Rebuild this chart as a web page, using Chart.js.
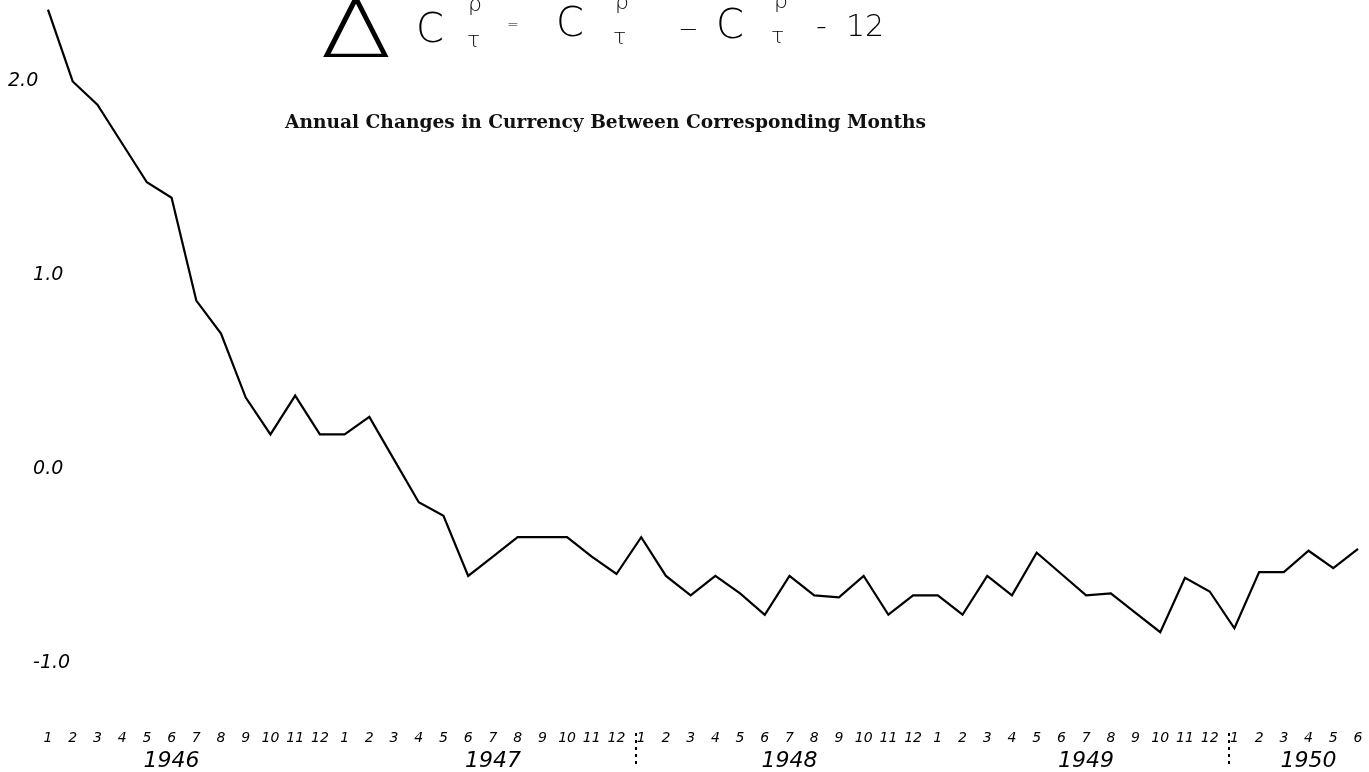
<!DOCTYPE html>
<html>
<head>
<meta charset="utf-8">
<title>Annual Changes in Currency Between Corresponding Months</title>
<script src="https://cdn.jsdelivr.net/npm/chart.js@4.4.1/dist/chart.umd.min.js"></script>
<style>
  html, body { margin: 0; padding: 0; background: #fff; overflow: hidden; }
  #wrap  { position: relative; width: 1369px; height: 772px; }
  #chart { position: absolute; left: 0; top: 0; }
  .hand  { position: absolute; line-height: 1; font-family: 'DejaVu Sans', sans-serif; font-weight: 200; color: #000; white-space: nowrap; }
  #delta { transform: scaleX(1.35); transform-origin: left top; }
  #title { position: absolute; left: 285px; top: 113px; font: bold 18.6px 'DejaVu Serif', serif; line-height: 1; white-space: nowrap; color: #111; }
</style>
</head>
<body>
<div id="wrap">
  <canvas id="chart" width="1369" height="772"></canvas>
  <div id="title">Annual Changes in Currency Between Corresponding Months</div>

  <!-- handwritten formula: ΔC(ρ,τ) = C(ρ,τ) − C(ρ,τ−12) -->
  <span class="hand" id="delta" style="left:320px;top:-9px;font-size:78px">Δ</span>
  <span class="hand" style="left:416px;top:8px;font-size:40px">C</span>
  <span class="hand" style="left:468px;top:-7px;font-size:22px">ρ</span>
  <span class="hand" style="left:467px;top:29px;font-size:22px">τ</span>
  <span class="hand" style="left:507px;top:17px;font-size:14px">=</span>
  <span class="hand" style="left:556px;top:2px;font-size:40px">C</span>
  <span class="hand" style="left:615px;top:-9px;font-size:22px">ρ</span>
  <span class="hand" style="left:613px;top:26px;font-size:22px">τ</span>
  <span class="hand" style="left:678px;top:17px;font-size:24px">−</span>
  <span class="hand" style="left:716px;top:4px;font-size:40px">C</span>
  <span class="hand" style="left:774px;top:-10px;font-size:22px">ρ</span>
  <span class="hand" style="left:771px;top:25px;font-size:22px">τ</span>
  <span class="hand" style="left:816px;top:11px;font-size:30px">-&nbsp;&nbsp;12</span>
</div>

<script>
// ── Data ────────────────────────────────────────────────────────────────────
const monthTicks = [
  '1', '2', '3', '4', '5', '6', '7', '8', '9', '10', '11', '12',   // 1946
  '1', '2', '3', '4', '5', '6', '7', '8', '9', '10', '11', '12',   // 1947
  '1', '2', '3', '4', '5', '6', '7', '8', '9', '10', '11', '12',   // 1948
  '1', '2', '3', '4', '5', '6', '7', '8', '9', '10', '11', '12',   // 1949
  '1', '2', '3', '4', '5', '6'                                      // 1950
];
const yearTicks     = ['1946', '1947', '1948', '1949', '1950'];
const yearTickMonth = [5, 18, 30, 42, 51];      // month index each year label sits under
const yearBreaks    = [23, 47];                 // dotted separator after these months

const yTicks    = [-1, 0, 1, 2];
const yTickText = ['-1.0', '0.0', '1.0', '2.0'];

const currencyChange = [
   2.37,  2.00,  1.88,  1.68,  1.48,  1.40,  0.87,  0.70,  0.37,  0.18,  0.38,  0.18,  // 1946
   0.18,  0.27,  0.05, -0.17, -0.24, -0.55, -0.45, -0.35, -0.35, -0.35, -0.45, -0.54,  // 1947
  -0.35, -0.55, -0.65, -0.55, -0.64, -0.75, -0.55, -0.65, -0.66, -0.55, -0.75, -0.65,  // 1948
  -0.65, -0.75, -0.55, -0.65, -0.43, -0.54, -0.65, -0.64, -0.74, -0.84, -0.56, -0.63,  // 1949
  -0.82, -0.53, -0.53, -0.42, -0.51, -0.41                                              // 1950
];

// ── Helpers ─────────────────────────────────────────────────────────────────
const handFont = size => ({ family: "'DejaVu Sans', sans-serif", size, style: 'italic' });

const yearSeparators = {
  id: 'yearSeparators',
  afterDraw(chart) {
    const x   = chart.scales.x;
    const ctx = chart.ctx;
    ctx.save();
    ctx.strokeStyle = '#000';
    ctx.lineWidth = 2;
    ctx.setLineDash([3, 4]);
    yearBreaks.forEach(i => {
      const px = Math.round((x.getPixelForValue(i) + x.getPixelForValue(i + 1)) / 2) + 7;
      ctx.beginPath();
      ctx.moveTo(px, x.top + 31);
      ctx.lineTo(px, x.top + 62);
      ctx.stroke();
    });
    ctx.restore();
  }
};

// ── Chart ───────────────────────────────────────────────────────────────────
new Chart(document.getElementById('chart'), {
  type: 'line',
  data: {
    labels: monthTicks,
    datasets: [{
      data: currencyChange,
      borderColor: '#000',
      borderWidth: 2.2,
      pointRadius: 0,
      tension: 0,
      fill: false
    }]
  },
  options: {
    responsive: false,
    animation: false,
    layout: { padding: { left: 0, right: 11, top: 0, bottom: 0 } },
    plugins: { legend: { display: false }, tooltip: { enabled: false } },
    scales: {
      x: {
        type: 'category',
        position: 'bottom',
        offset: false,
        // tick marks hidden, but their length pushes the labels down
        grid: { display: false, drawTicks: true, tickLength: 28 },
        border: { display: false },
        ticks: { autoSkip: false, maxRotation: 0, minRotation: 0, padding: 0, color: '#000', font: handFont(14) },
        afterFit: s => { s.height = 44; }
      },
      xYear: {
        type: 'category',
        labels: monthTicks,
        position: 'bottom',
        offset: false,
        grid: { display: false, drawTicks: false },
        border: { display: false },
        ticks: {
          autoSkip: false, maxRotation: 0, minRotation: 0, padding: 2, color: '#000', font: handFont(22),
          callback: (v, i) => { const k = yearTickMonth.indexOf(i); return k < 0 ? '' : yearTicks[k]; }
        },
        afterFit: s => { s.height = 26; }
      },
      y: {
        min: -1.2,
        max: 2.42,
        grid: { display: false },
        border: { display: false },
        afterBuildTicks: s => { s.ticks = yTicks.map(v => ({ value: v })); },
        afterFit: s => { s.width = 48; },
        ticks: {
          mirror: true,
          padding: -40,
          crossAlign: 'near',
          color: '#000',
          font: handFont(19),
          callback: v => (v === 2 ? '' : '\u2003 ') + yTickText[yTicks.indexOf(v)]
        }
      }
    }
  },
  plugins: [yearSeparators]
});
</script>
</body>
</html>
